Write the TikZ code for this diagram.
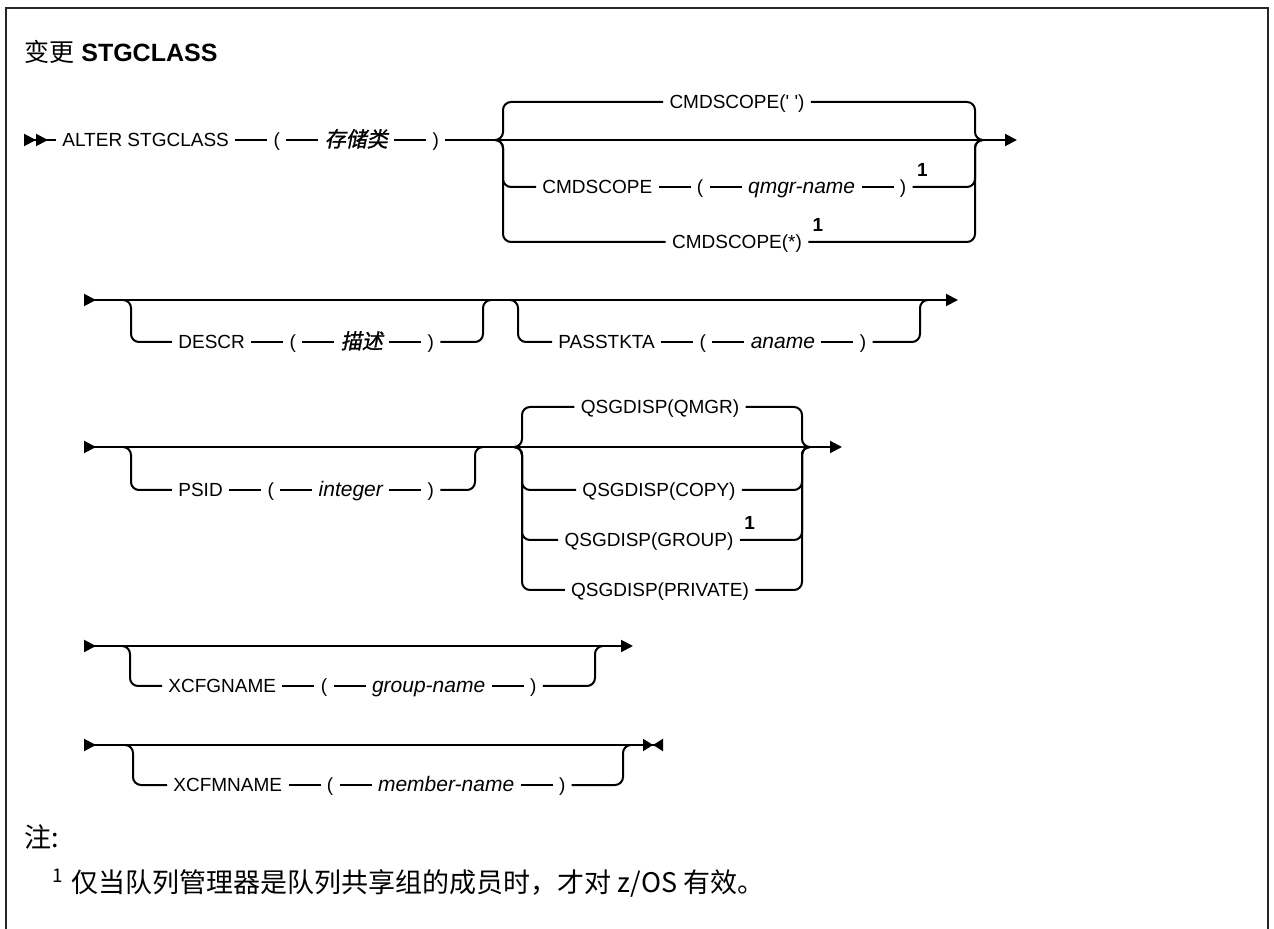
\documentclass[tikz,border=0pt]{standalone}
\usepackage{fontspec}
\setmainfont{Liberation Sans}
\newfontfamily\cjk{Noto Sans CJK SC}
\newfontfamily\cjkvar{Noto Sans CJK SC}[FakeSlant=0.2, FakeBold=1.2]
\usetikzlibrary{arrows.meta,positioning}
\tikzset{mk/.tip={Triangle[length=6pt, width=6pt]},
  rmk/.tip={Triangle[reversed, length=6pt, width=6pt]},
  smk/.tip={Triangle[length=5pt, width=6pt]},
  srmk/.tip={Triangle[reversed, length=5pt, width=6pt]},
  kw/.style={inner xsep=3pt, inner ysep=0pt, text height=6.8pt, text depth=0pt, font=\fontsize{9.5}{11}\selectfont},
  var/.style={kw, font=\fontsize{10.5}{12}\selectfont\itshape},
  cvar/.style={kw, font=\fontsize{10.5}{12}\selectfont\cjkvar},
  fn/.style={inner sep=0pt, anchor=south west, font=\fontsize{9.5}{11}\selectfont\bfseries},
  rail/.style={line width=1pt},
  arm/.style={rail, rounded corners=4pt},
  go/.style={rail, arrows={rmk[]-mk[]}},
  note/.style={anchor=west, inner sep=0pt, font=\fontsize{13.5}{15}\selectfont\cjk}}

\begin{document}
\begin{tikzpicture}[x=0.5pt, y=-0.5pt, node distance=16pt]
  \useasboundingbox (0,0) rectangle (1274,929);
  \draw[line width=1.4pt, black!85] (6,929) -- (6,8) -- (1268,8) -- (1268,929);
  \node[anchor=base west, inner sep=0pt, font=\fontsize{12.5}{14}\selectfont] (title) at (24,62) {{\cjk 变更} \textbf{STGCLASS}};
  % row 1 : ALTER STGCLASS and CMDSCOPE choice
  \coordinate (st1) at (24,140);
  \coordinate (end1) at (1017,140);
  \node[kw, anchor=west] (alter) at (56,140) {ALTER STGCLASS};
  \node[kw, right=of alter] (lp1) {(};
  \node[cvar, right=of lp1] (sc) {存储类};
  \node[kw, right=of sc] (rp1) {)};
  \draw[rail, arrows={rmk[]rmk[]-}] (st1) -- (alter);
  \draw[rail] (alter) -- (lp1) -- (sc) -- (rp1);
  \draw[rail, arrows={-mk[]}] (rp1) -- (end1);
  \coordinate (gl1) at (503,140);
  \coordinate (gr1) at (975,140);
  \coordinate (jl1) at (495,140);
  \coordinate (jr1) at (983,140);
  \node[kw] (cs1) at (737,102) {CMDSCOPE(\textquotesingle\ \textquotesingle)};
  \node[kw, anchor=west] (cs2) at (536,187) {CMDSCOPE};
  \node[kw, right=of cs2] (lp2) {(};
  \node[var, right=of lp2] (qm) {qmgr-name};
  \node[kw, right=of qm] (rp2) {)};
  \node[fn] (f1) at ([xshift=2pt, yshift=5pt]rp2.east) {1};
  \node[kw] (cs3) at (737,242) {CMDSCOPE(*)};
  \node[fn] (f2) at ([xshift=2pt, yshift=5pt]cs3.east) {1};
  \draw[rail] (cs2) -- (lp2) -- (qm) -- (rp2);
  \foreach \b in {cs1, cs2, cs3}
    \draw[arm] (jl1) -| (\b.west -| gl1) -- (\b.west);
  \draw[arm] (cs1.east) -- (cs1.east -| gr1) |- (jr1);
  \draw[arm] (rp2.east) -- (rp2.east -| gr1) |- (jr1);
  \draw[arm] (cs3.east) -- (cs3.east -| gr1) |- (jr1);
  % row 2 : DESCR, PASSTKTA
  \coordinate (st2) at (84,300);
  \coordinate (end2) at (958,300);
  \coordinate (ol1) at (131,300);
  \coordinate (or1) at (483,300);
  \coordinate (ol2) at (518,300);
  \coordinate (or2) at (920,300);
  \node[kw, anchor=west] (descr) at (172,342) {DESCR};
  \node[kw, right=of descr] (lp3) {(};
  \node[cvar, right=of lp3] (ms) {描述};
  \node[kw, right=of ms] (rp3) {)};
  \node[kw, anchor=west] (pass) at (552,342) {PASSTKTA};
  \node[kw, right=of pass] (lp4) {(};
  \node[var, right=of lp4] (an) {aname};
  \node[kw, right=of an] (rp4) {)};
  \draw[go] (st2) -- (end2);
  \draw[rail] (descr) -- (lp3) -- (ms) -- (rp3);
  \draw[rail] (pass) -- (lp4) -- (an) -- (rp4);
  \draw[arm] ([xshift=-4pt]ol1) -| (descr.west -| ol1) -- (descr.west);
  \draw[arm] (rp3.east) -- (rp3.east -| or1) |- ([xshift=4pt]or1);
  \draw[arm] ([xshift=-4pt]ol2) -| (pass.west -| ol2) -- (pass.west);
  \draw[arm] (rp4.east) -- (rp4.east -| or2) |- ([xshift=4pt]or2);
  % row 3 : PSID and QSGDISP choice
  \coordinate (st3) at (84,447);
  \coordinate (end3) at (842,447);
  \coordinate (ol3) at (131,447);
  \coordinate (or3) at (475,447);
  \coordinate (gl2) at (522,447);
  \coordinate (gr2) at (802,447);
  \coordinate (jl2) at (514,447);
  \coordinate (jr2) at (810,447);
  \node[kw, anchor=west] (psid) at (172,490) {PSID};
  \node[kw, right=of psid] (lp5) {(};
  \node[var, right=of lp5] (ig) {integer};
  \node[kw, right=of ig] (rp5) {)};
  \node[kw] (qs1) at (660,407) {QSGDISP(QMGR)};
  \node[kw] (qs2) at (659,490) {QSGDISP(COPY)};
  \node[kw] (qs3) at (649,540) {QSGDISP(GROUP)};
  \node[fn] (f3) at ([xshift=2pt, yshift=5pt]qs3.east) {1};
  \node[kw] (qs4) at (660,590) {QSGDISP(PRIVATE)};
  \draw[go] (st3) -- (end3);
  \draw[rail] (psid) -- (lp5) -- (ig) -- (rp5);
  \draw[arm] ([xshift=-4pt]ol3) -| (psid.west -| ol3) -- (psid.west);
  \draw[arm] (rp5.east) -- (rp5.east -| or3) |- ([xshift=4pt]or3);
  \foreach \b in {qs1, qs2, qs3, qs4} {
    \draw[arm] (jl2) -| (\b.west -| gl2) -- (\b.west);
    \draw[arm] (\b.east) -- (\b.east -| gr2) |- (jr2);
  }
  % row 4 : XCFGNAME
  \coordinate (st4) at (84,646);
  \coordinate (end4) at (633,646);
  \coordinate (ol4) at (130,646);
  \coordinate (or4) at (595,646);
  \node[kw, anchor=west] (xg) at (162,686) {XCFGNAME};
  \node[kw, right=of xg] (lp6) {(};
  \node[var, right=of lp6] (gn) {group-name};
  \node[kw, right=of gn] (rp6) {)};
  \draw[go] (st4) -- (end4);
  \draw[rail] (xg) -- (lp6) -- (gn) -- (rp6);
  \draw[arm] ([xshift=-4pt]ol4) -| (xg.west -| ol4) -- (xg.west);
  \draw[arm] (rp6.east) -- (rp6.east -| or4) |- ([xshift=4pt]or4);
  % row 5 : XCFMNAME, end of statement
  \coordinate (st5) at (84,745);
  \coordinate (end5) at (663,745);
  \coordinate (ol5) at (133,745);
  \coordinate (or5) at (623,745);
  \node[kw, anchor=west] (xm) at (167,785) {XCFMNAME};
  \node[kw, right=of xm] (lp7) {(};
  \node[var, right=of lp7] (mn) {member-name};
  \node[kw, right=of mn] (rp7) {)};
  \draw[rail, arrows={rmk[]-smk[]srmk[]}] (st5) -- (end5);
  \draw[rail] (xm) -- (lp7) -- (mn) -- (rp7);
  \draw[arm] ([xshift=-4pt]ol5) -| (xm.west -| ol5) -- (xm.west);
  \draw[arm] (rp7.east) -- (rp7.east -| or5) |- ([xshift=4pt]or5);
  % notes
  \node[note] (zhu) at (24,837) {注:};
  \node[note] (fnote) at (52,883) {\textsuperscript{1}\hspace{4pt}仅当队列管理器是队列共享组的成员时，才对 z/OS 有效。};
\end{tikzpicture}
\end{document}
